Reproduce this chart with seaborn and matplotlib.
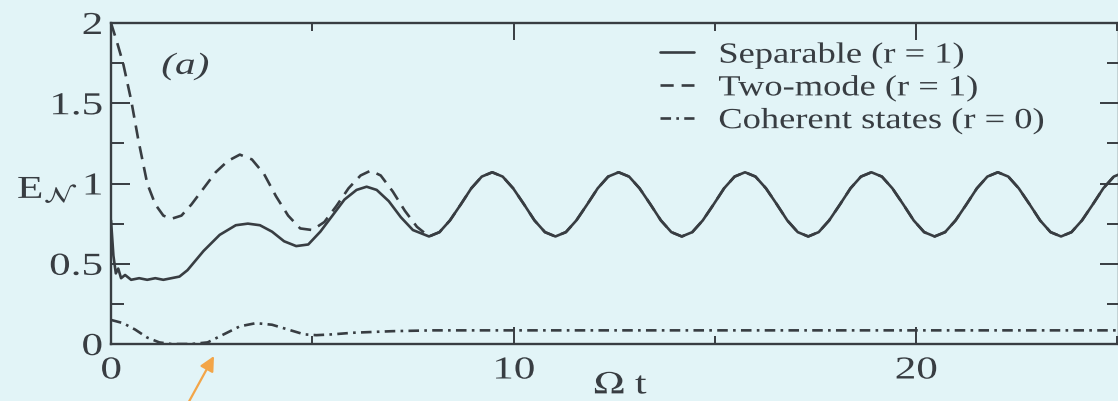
import numpy as np
import pandas as pd
import matplotlib
matplotlib.use("Agg")
import matplotlib.pyplot as plt
from matplotlib.ticker import MultipleLocator
from matplotlib.patheffects import AbstractPathEffect
from matplotlib.transforms import Affine2D
import seaborn as sns

# ---- data -------------------------------------------------------------
# oscillating regime shared by the two squeezed-state curves (t >= 7.9)
t_tail = [7.9, 8.16, 8.42, 8.69, 8.95, 9.21, 9.47, 9.73, 9.99, 10.26,
          10.52, 10.78, 11.04, 11.3, 11.56, 11.83, 12.09, 12.35, 12.61,
          12.87, 13.13, 13.4, 13.66, 13.92, 14.18, 14.44, 14.7, 14.97,
          15.23, 15.49, 15.75, 16.01, 16.27, 16.54, 16.8, 17.06, 17.32,
          17.58, 17.84, 18.11, 18.37, 18.63, 18.89, 19.15, 19.41, 19.68,
          19.94, 20.2, 20.46, 20.72, 20.98, 21.25, 21.51, 21.77, 22.03,
          22.29, 22.55, 22.82, 23.08, 23.34, 23.6, 23.86, 24.12, 24.39,
          24.65, 24.91, 25.17]
en_tail = [0.67, 0.697, 0.77, 0.87, 0.97, 1.043, 1.07, 1.043, 0.97, 0.87,
           0.77, 0.697, 0.67, 0.697, 0.77, 0.87, 0.97, 1.043, 1.07, 1.043,
           0.97, 0.87, 0.77, 0.697, 0.67, 0.697, 0.77, 0.87, 0.97, 1.043,
           1.07, 1.043, 0.97, 0.87, 0.77, 0.697, 0.67, 0.697, 0.77, 0.87,
           0.97, 1.043, 1.07, 1.043, 0.97, 0.87, 0.77, 0.697, 0.67, 0.697,
           0.77, 0.87, 0.97, 1.043, 1.07, 1.043, 0.97, 0.87, 0.77, 0.697,
           0.67, 0.697, 0.77, 0.87, 0.97, 1.043, 1.07]

# separable squeezed input, r = 1 (transient part)
t_sep = [0.0, 0.06, 0.12, 0.18, 0.25, 0.35, 0.5, 0.7, 0.9, 1.1, 1.3, 1.5,
         1.7, 1.9, 2.1, 2.3, 2.5, 2.7, 2.9, 3.1, 3.4, 3.7, 4.0, 4.3, 4.6,
         4.9, 5.2, 5.5, 5.8, 6.1, 6.35, 6.6, 6.9, 7.2, 7.5]
en_sep = [0.77, 0.55, 0.44, 0.47, 0.41, 0.43, 0.40, 0.41, 0.40, 0.41, 0.40,
          0.41, 0.42, 0.46, 0.52, 0.58, 0.63, 0.68, 0.71, 0.74, 0.75, 0.74,
          0.70, 0.64, 0.61, 0.62, 0.70, 0.80, 0.90, 0.96, 0.98, 0.96, 0.89,
          0.79, 0.71]

# two-mode squeezed input, r = 1 (transient part)
t_two = [0.0, 0.15, 0.3, 0.5, 0.68, 0.9, 1.1, 1.3, 1.5, 1.75, 2.0, 2.3,
         2.6, 2.9, 3.2, 3.5, 3.8, 4.1, 4.4, 4.7, 5.0, 5.3, 5.6, 5.9, 6.2,
         6.45, 6.7, 7.0, 7.3, 7.6]
en_two = [2.0, 1.88, 1.75, 1.52, 1.27, 1.0, 0.87, 0.80, 0.78, 0.80, 0.87,
          0.97, 1.07, 1.14, 1.18, 1.15, 1.06, 0.92, 0.80, 0.72, 0.71, 0.76,
          0.86, 0.97, 1.05, 1.08, 1.05, 0.95, 0.83, 0.73]

# coherent states, r = 0
t_coh = [0.0, 0.3, 0.6, 0.9, 1.2, 1.5, 2.0, 2.4, 2.8, 3.2, 3.6, 4.0, 4.4,
         4.8, 5.1, 5.5, 6.0, 7.0, 8.0, 10.0, 15.0, 20.0, 25.3]
en_coh = [0.15, 0.13, 0.09, 0.04, 0.01, 0.0, 0.0, 0.01, 0.06, 0.11, 0.13,
          0.12, 0.09, 0.06, 0.055, 0.06, 0.07, 0.08, 0.085, 0.085, 0.085,
          0.085, 0.085]

labels = ["Separable (r = 1)", "Two-mode (r = 1)", "Coherent states (r = 0)"]
x_ticks = [0, 10, 20]
y_ticks = [0, 0.5, 1, 1.5, 2]
y_ticklabels = ["0", "0.5", "1", "1.5", "2"]


class HStretch(AbstractPathEffect):
    """Widen a text path horizontally about its left, centre or right edge."""

    def __init__(self, sx=1.3, anchor="center"):
        super().__init__()
        self.sx = sx
        self.anchor = anchor

    def draw_path(self, renderer, gc, tpath, affine, rgbFace=None):
        pts = affine.transform(tpath.vertices)
        if len(pts) == 0:
            return
        xmin, xmax = pts[:, 0].min(), pts[:, 0].max()
        cx = {"left": xmin, "right": xmax, "center": 0.5 * (xmin + xmax)}[self.anchor]
        extra = Affine2D().translate(-cx, 0).scale(self.sx, 1).translate(cx, 0)
        renderer.draw_path(gc, tpath, affine + extra, rgbFace)


# ---- styling ----------------------------------------------------------
sns.set_theme(style="ticks")
BG = "#e2f4f7"
INK = "#383d42"
plt.rcParams["font.family"] = ["Liberation Serif", "DejaVu Serif"]
plt.rcParams["mathtext.fontset"] = "stix"
plt.rcParams["text.color"] = INK

frames = [
    pd.DataFrame({"t": t_sep + t_tail, "E": en_sep + en_tail, "state": labels[0]}),
    pd.DataFrame({"t": t_two + t_tail, "E": en_two + en_tail, "state": labels[1]}),
    pd.DataFrame({"t": t_coh, "E": en_coh, "state": labels[2]}),
]
df = pd.concat(frames, ignore_index=True)

W, H = 1118, 401
fig = plt.figure(figsize=(W / 100, H / 100), dpi=100, facecolor=BG)
x0, x1, y_top, y_bot = 111, 1119, 23, 344
ax = fig.add_axes([x0 / W, 1 - y_bot / H, (x1 - x0) / W, (y_bot - y_top) / H])
ax.set_facecolor(BG)

dash_map = {labels[0]: "", labels[1]: (5, 3), labels[2]: (4, 2, 1, 2)}
sns.lineplot(data=df, x="t", y="E", style="state", dashes=dash_map,
             style_order=labels, color=INK, linewidth=1.9, sort=False,
             estimator=None, ax=ax)

ax.set_xlim(0, 25.04)
ax.set_ylim(0, 2)
ax.set_xticks(x_ticks)
ax.set_xticklabels([str(v) for v in x_ticks])
ax.xaxis.set_minor_locator(MultipleLocator(5))
ax.set_yticks(y_ticks)
ax.set_yticklabels(y_ticklabels)
ax.yaxis.set_minor_locator(MultipleLocator(0.25))
ax.set_xlabel("")
ax.set_ylabel("")

for s in ax.spines.values():
    s.set_color(INK)
    s.set_linewidth(1.7)
ax.tick_params(which="both", direction="in", top=True, right=True,
               color=INK, width=1.4, labelsize=23, labelcolor=INK)
ax.tick_params(axis="x", which="major", length=12, pad=9)
ax.tick_params(axis="x", which="minor", length=6)
ax.tick_params(axis="y", which="major", length=14, pad=6)
ax.tick_params(axis="y", which="minor", length=9)

for lab in ax.get_xticklabels():
    lab.set_path_effects([HStretch(1.35, "center")])
for lab in ax.get_yticklabels():
    lab.set_path_effects([HStretch(1.35, "right")])

# axis titles and panel tag
t_e = fig.text(17 / W, 1 - 190 / H, r"E$_{\mathcal{N}}$", fontsize=23,
               color=INK, ha="left", va="center")
t_e.set_path_effects([HStretch(1.35, "left")])
t_w = fig.text(621 / W, 1 - 386 / H, r"$\Omega$ t", fontsize=23, color=INK,
               ha="center", va="center")
t_w.set_path_effects([HStretch(1.3, "center")])
t_a = ax.text(1.84, 1.73, "(a)", fontsize=22, style="italic", color=INK,
              ha="center", va="center")
t_a.set_path_effects([HStretch(1.35, "center")])

leg = ax.legend(loc="upper left", bbox_to_anchor=(660 / W, 1 - 42 / H),
                bbox_transform=fig.transFigure, frameon=False, fontsize=21,
                handlelength=1.15, handletextpad=0.85, labelspacing=0.2,
                borderpad=0, borderaxespad=0)
for txt in leg.get_texts():
    txt.set_color(INK)
    txt.set_path_effects([HStretch(1.25, "left")])

# highlight arrow pointing at the coherent-state curve
ax.annotate("", xy=(214, H - 356), xytext=(186, -6), xycoords="figure pixels",
            textcoords="figure pixels",
            arrowprops=dict(arrowstyle="-|>", color="#f3a548", lw=1.6,
                            mutation_scale=22, shrinkA=0, shrinkB=0),
            annotation_clip=False)

fig.savefig("out.png", dpi=100, facecolor=BG)
